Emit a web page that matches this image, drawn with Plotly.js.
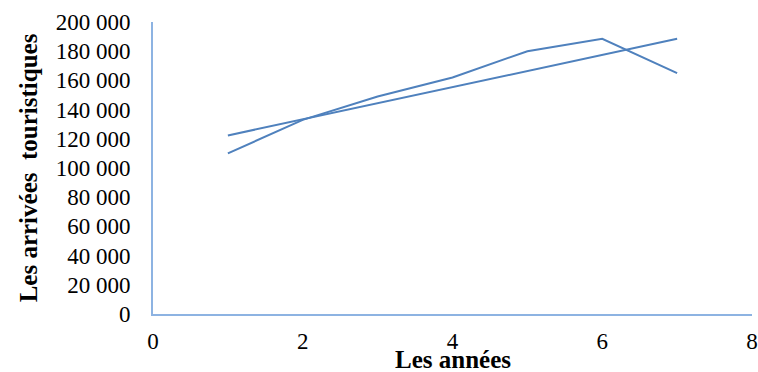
<!DOCTYPE html>
<html>
<head>
<meta charset="utf-8">
<script src="https://cdn.plot.ly/plotly-3.0.1.min.js"></script>
<style>
html,body{margin:0;padding:0;background:#fff;}
#chart{width:758px;height:372px;}
</style>
</head>
<body>
<div id="chart"></div>
<script>
// Years (index) and tourist arrivals
var years = [1, 2, 3, 4, 5, 6, 7];
var arrivals = [110000, 133000, 149000, 162000, 180000, 188500, 165000];
// Linear trendline endpoints
var trendYears = [1, 7];
var trendValues = [122300, 188500];
var xTicks = [0, 2, 4, 6, 8];
var yTicks = [0, 20000, 40000, 60000, 80000, 100000, 120000, 140000, 160000, 180000, 200000];
var xTitle = 'Les années';
var yTitle = 'Les arrivées  touristiques';

var lineColor = '#4f81bd';
var axisColor = '#8db3e2';
var fontFam = '"Liberation Serif", "Times New Roman", serif';

var traces = [
  {x: years, y: arrivals, type: 'scatter', mode: 'lines',
   line: {color: lineColor, width: 2}, hoverinfo: 'x+y'},
  {x: trendYears, y: trendValues, type: 'scatter', mode: 'lines',
   line: {color: lineColor, width: 2}, hoverinfo: 'x+y'}
];

var layout = {
  width: 758, height: 372,
  margin: {l: 153, r: 6, t: 22, b: 58},
  showlegend: false,
  paper_bgcolor: '#fff', plot_bgcolor: '#fff',
  separators: ', ',
  font: {family: fontFam, size: 23, color: '#000'},
  xaxis: {
    range: [0, 8], tickvals: xTicks, ticktext: xTicks.map(String),
    showgrid: false, zeroline: false, showline: true,
    linecolor: axisColor, linewidth: 2, ticks: '',
    ticklabelstandoff: 5,
    tickfont: {family: fontFam, size: 23, color: '#000'}
  },
  yaxis: {
    range: [0, 200000], tickvals: yTicks, tickformat: ',d',
    showgrid: false, zeroline: false, showline: true,
    linecolor: axisColor, linewidth: 2, ticks: '',
    ticklabelstandoff: 16,
    tickfont: {family: fontFam, size: 23, color: '#000'},
    title: {text: '<b>' + yTitle + '</b>', font: {family: fontFam, size: 25, color: '#000'}, standoff: 11}
  },
  annotations: [{
    text: '<b>' + xTitle + '</b>', xref: 'paper', yref: 'paper',
    x: 0.5, y: 0, xanchor: 'center', yanchor: 'bottom', yshift: -60,
    showarrow: false, borderpad: 0,
    font: {family: fontFam, size: 25, color: '#000'}
  }]
};

Plotly.newPlot('chart', traces, layout, {displayModeBar: false, staticPlot: true});
</script>
</body>
</html>
